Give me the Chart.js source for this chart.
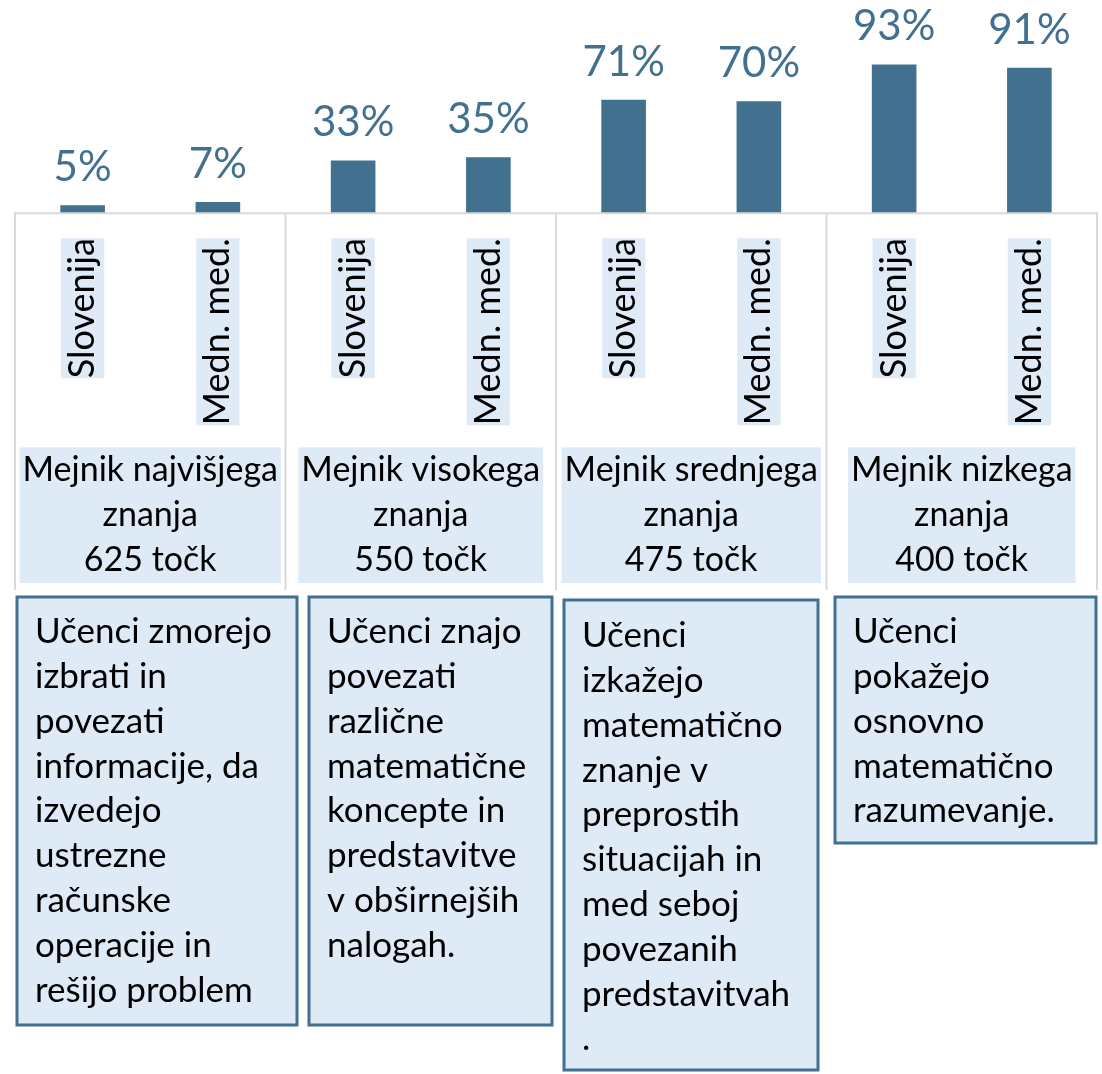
<!DOCTYPE html>
<html>
<head>
<meta charset="utf-8">
<script src="https://cdn.jsdelivr.net/npm/chart.js@4.4.0/dist/chart.umd.min.js"></script>
<style>
  body { margin: 0; background: #fff; }
  #wrap { position: relative; width: 1102px; height: 1074px; }
</style>
</head>
<body>
<div id="wrap"><canvas id="mejniki"></canvas></div>
<script>
// podatki
const kategorije = ["Slovenija", "Medn. med.", "Slovenija", "Medn. med.", "Slovenija", "Medn. med.", "Slovenija", "Medn. med."];
const odstotki = [5, 7, 33, 35, 71, 70, 93, 91];
const mejniki = [
    ["Mejnik najvišjega", "znanja", "625 točk"],
    ["Mejnik visokega", "znanja", "550 točk"],
    ["Mejnik srednjega", "znanja", "475 točk"],
    ["Mejnik nizkega", "znanja", "400 točk"]
];
const opisi = [
    ["Učenci zmorejo", "izbrati in", "povezati", "informacije, da", "izvedejo", "ustrezne", "računske", "operacije in", "rešijo problem"],
    ["Učenci znajo", "povezati", "različne", "matematične", "koncepte in", "predstavitve", "v obširnejših", "nalogah."],
    ["Učenci", "izkažejo", "matematično", "znanje v", "preprostih", "situacijah in", "med seboj", "povezanih", "predstavitvah", "."],
    ["Učenci", "pokažejo", "osnovno", "matematično", "razumevanje."]
];

const modra = '#42718F';
const svetla = '#DEEBF7';
const siva = '#D9D9D9';
const pisava = 'Lato';
const mejnikPisava = { family: pisava, size: 34, lineHeight: 1.33 };
const mejnikOdmik = -3;

// okvirji z opisi pod grafom
const okvirji = [
    { x: 17, y: 597, w: 280, h: 428, prvaVrsta: 35 },
    { x: 309, y: 597, w: 243, h: 428, prvaVrsta: 35 },
    { x: 564, y: 600, w: 254, h: 470, prvaVrsta: 36 },
    { x: 835, y: 597, w: 261, h: 246, prvaVrsta: 35 }
];

// ozadje za oznake mejnikov (vgrajeni backdrop pokrije vecvrsticne oznake)
const ozadjePlugin = {
    id: 'ozadje',
    beforeDraw(chart) {
        const ctx = chart.ctx;
        const x2 = chart.scales.x2;
        const lh = mejnikPisava.size * mejnikPisava.lineHeight;
        ctx.save();
        ctx.font = mejnikPisava.size + 'px ' + pisava;
        ctx.fillStyle = svetla;
        mejniki.forEach((vrstice, i) => {
            const w = Math.max(...vrstice.map(v => ctx.measureText(v).width)) + 6;
            const cx = x2.getPixelForTick(i);
            ctx.fillRect(cx - w / 2, x2.top + mejnikOdmik, w, lh * vrstice.length);
        });
        ctx.restore();
    }
};

const oznakePlugin = {
    id: 'oznake',
    afterDatasetsDraw(chart) {
        const ctx = chart.ctx;
        const meta = chart.getDatasetMeta(0);
        ctx.save();
        ctx.fillStyle = modra;
        ctx.font = '42px ' + pisava;
        ctx.textAlign = 'center';
        ctx.textBaseline = 'alphabetic';
        meta.data.forEach((bar, i) => {
            ctx.fillText(odstotki[i] + '%', bar.x, bar.y - 24);
        });
        ctx.restore();
    }
};

// mreza pod osjo: vodoravna crta in locnice med skupinami
const mrezaPlugin = {
    id: 'mreza',
    afterDraw(chart) {
        const ctx = chart.ctx;
        const x = chart.scales.x;
        const area = chart.chartArea;
        const meje = [area.left];
        for (let i = 1; i < kategorije.length / 2; i++) {
            meje.push((x.getPixelForValue(2 * i - 1) + x.getPixelForValue(2 * i)) / 2);
        }
        meje.push(area.right);
        ctx.save();
        ctx.strokeStyle = siva;
        ctx.lineWidth = 2;
        ctx.beginPath();
        ctx.moveTo(area.left - 1, x.top);
        ctx.lineTo(area.right + 1, x.top);
        meje.forEach(m => {
            ctx.moveTo(m, x.top);
            ctx.lineTo(m, 590);
        });
        ctx.stroke();
        ctx.restore();
    }
};

const opisiPlugin = {
    id: 'opisi',
    afterDraw(chart) {
        const ctx = chart.ctx;
        ctx.save();
        okvirji.forEach((o, i) => {
            ctx.fillStyle = svetla;
            ctx.fillRect(o.x, o.y, o.w, o.h);
            ctx.strokeStyle = modra;
            ctx.lineWidth = 3;
            ctx.strokeRect(o.x, o.y, o.w, o.h);
            ctx.fillStyle = '#000';
            ctx.font = '35px ' + pisava;
            ctx.textAlign = 'left';
            ctx.textBaseline = 'middle';
            opisi[i].forEach((vrsta, j) => {
                ctx.fillText(vrsta, o.x + 18, o.y + o.prvaVrsta + j * 44.8);
            });
        });
        ctx.restore();
    }
};

const graf = new Chart(document.getElementById('mejniki'), {
    type: 'bar',
    data: {
        labels: kategorije,
        datasets: [{
            data: odstotki,
            backgroundColor: modra,
            barPercentage: 0.33,
            categoryPercentage: 1
        }]
    },
    options: {
        responsive: true,
        maintainAspectRatio: false,
        animation: false,
        layout: { padding: { left: 15, right: 5, top: 0, bottom: 494 } },
        plugins: { legend: { display: false }, tooltip: { enabled: false } },
        scales: {
            y: { display: false, min: 0, max: 133.3 },
            x: {
                offset: true,
                grid: { display: false, drawTicks: false },
                border: { display: false },
                ticks: {
                    autoSkip: false,
                    minRotation: 90,
                    maxRotation: 90,
                    padding: 25,
                    labelOffset: -21.6,
                    color: '#000',
                    font: { family: pisava, size: 36, lineHeight: 1.2 },
                    showLabelBackdrop: true,
                    backdropColor: svetla,
                    backdropPadding: 0
                }
            },
            x2: {
                type: 'category',
                position: 'bottom',
                labels: mejniki,
                offset: true,
                grid: { display: false, drawTicks: false },
                border: { display: false },
                ticks: {
                    autoSkip: false,
                    maxRotation: 0,
                    padding: mejnikOdmik,
                    color: '#000',
                    font: mejnikPisava
                }
            }
        }
    },
    plugins: [ozadjePlugin, oznakePlugin, mrezaPlugin, opisiPlugin]
});
</script>
</body>
</html>
